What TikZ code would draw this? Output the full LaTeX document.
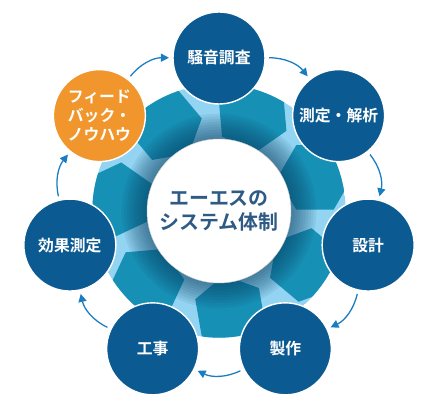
\documentclass[tikz,border=0pt]{standalone}
\usepackage{fontspec}
\setmainfont{Noto Sans CJK JP}[BoldFont={Noto Sans CJK JP Bold}]
\usetikzlibrary{arrows.meta}

\definecolor{stageblue}{HTML}{0C5A92}
\definecolor{feedorange}{HTML}{F0962D}
\definecolor{arrowblue}{HTML}{1A7DC0}
\definecolor{ringlight}{HTML}{93D4F2}
\definecolor{ringteal}{HTML}{1691B5}
\definecolor{ringdark}{HTML}{0A3E63}
\definecolor{hubtext}{HTML}{2E5A84}

\begin{document}
\begin{tikzpicture}[
  stage/.style={circle, draw=white, line width=1.2pt, fill=stageblue,
                minimum size=2.76cm, inner sep=0pt, align=center,
                text=white, font=\bfseries\fontsize{13.5}{16}\selectfont},
  hub/.style={circle, draw=black!20, line width=0.4pt, fill=white,
              minimum size=4.32cm, inner sep=0pt, align=center,
              text=hubtext, font=\bfseries\fontsize{17}{20}\selectfont},
  hexfill/.style={fill=ringteal},
  arrow/.style={-{Triangle[length=2.4mm, width=2.4mm]}, line width=1.1pt,
                draw=arrowblue, shorten <=1mm, shorten >=1mm}
]
\useasboundingbox (-6.57,-6.09) rectangle (6.36,6.33);

%% --- ring with hexagons ---
\begin{scope}
  \clip (0,0) circle (3.8);
  \fill[ringlight] (0,0) circle (3.8);
  \foreach \a/\t in {122.1/10, 70.7/35, 19.3/0, -32.1/20, -83.6/40, -135/5, 173.6/25}
    \fill[hexfill, shift={(\a:3.05)}, rotate=\t]
      (0:1.12) -- (60:1.12) -- (120:1.12) -- (180:1.12)
      -- (240:1.12) -- (300:1.12) -- cycle;
  \foreach \r in {2.2,2.28,...,3.0}
    \fill[ringdark, opacity=0.08] (0,0) circle (\r);
\end{scope}

%% --- centre ---
\node[hub] (hub) at (0,0) {エーエスの\\システム体制};

%% --- stages (clockwise from top) ---
\node[stage] (survey)   at (90:4.59)     {騒音調査};
\node[stage] (analysis) at (38.57:4.59)  {測定・解析};
\node[stage] (design)   at (-12.86:4.59) {設計};
\node[stage] (make)     at (-64.29:4.59) {製作};
\node[stage] (build)    at (-115.71:4.59) {工事};
\node[stage] (effect)   at (-167.14:4.59) {効果測定};
\node[stage, fill=feedorange] (feedback) at (141.43:4.59)
    {フィード\\バック・\\ノウハウ};

%% --- cycle arrows ---
\draw[arrow] (survey)   to[bend left=26] (analysis);
\draw[arrow] (analysis) to[bend left=26] (design);
\draw[arrow] (design)   to[bend left=26] (make);
\draw[arrow] (make)     to[bend left=26] (build);
\draw[arrow] (build)    to[bend left=26] (effect);
\draw[arrow] (effect)   to[bend left=26] (feedback);
\draw[arrow] (feedback) to[bend left=26] (survey);

\end{tikzpicture}
\end{document}
